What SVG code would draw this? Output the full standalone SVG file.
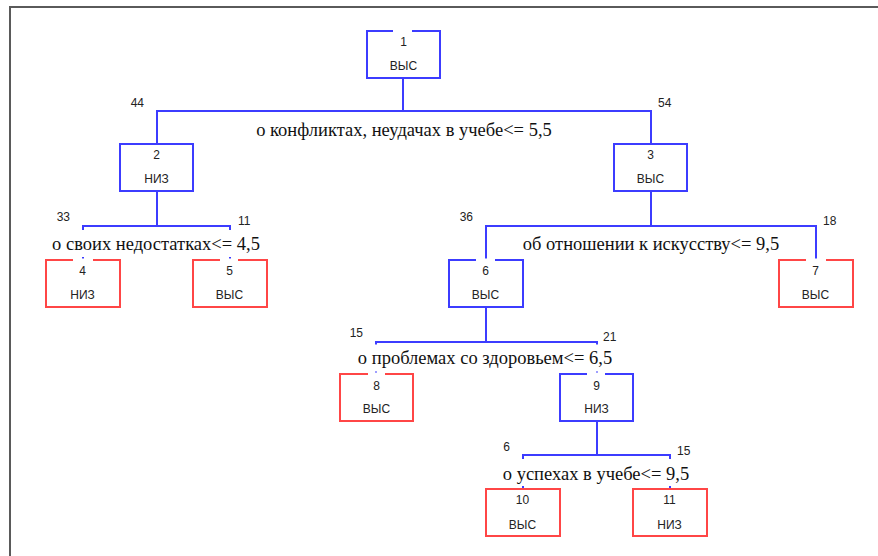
<svg xmlns="http://www.w3.org/2000/svg" width="878" height="556" viewBox="0 0 878 556">
<style>
.frame{stroke:#5a5a5a;stroke-width:2;fill:none}
.conn{stroke:#3c3cff;stroke-width:2;fill:none}
.nb{fill:#fff;stroke:#3c3cff;stroke-width:2}
.nr{fill:#fff;stroke:#ff4646;stroke-width:2}
.gap{fill:#fff;stroke:none}
.bg{fill:#fff;stroke:none}
.num{font-family:"Liberation Sans",Arial,sans-serif;font-size:12px;fill:#222;text-anchor:middle}
.cls{font-family:"Liberation Sans",Arial,sans-serif;font-size:12px;fill:#222;text-anchor:middle}
.cnt{font-family:"Liberation Sans",Arial,sans-serif;font-size:12px;fill:#222}
.split{font-family:"Liberation Serif","Times New Roman",serif;font-size:18.5px;fill:#111;text-anchor:middle}
</style>
<rect width="878" height="556" fill="#fff"/>
<path class="frame" d="M10 556 V7 H878"/>
<g id="connectors">
<path class="conn" d="M403 78 V111 M157 144 V111 H651 V144"/>
<path class="conn" d="M157 192 V226 M83 260 V226 H230 V260"/>
<path class="conn" d="M651 192 V226 M486 260 V226 H816 V260"/>
<path class="conn" d="M486 307 V342 M376 374 V342 H597 V374"/>
<path class="conn" d="M597 421 V455 M523 489 V455 H670 V489"/>
<g id="counts">
<text class="cnt" x="144" y="107" text-anchor="end">44</text>
<text class="cnt" x="658" y="107">54</text>
<text class="cnt" x="70" y="221" text-anchor="end">33</text>
<text class="cnt" x="238" y="225">11</text>
<text class="cnt" x="473" y="221" text-anchor="end">36</text>
<text class="cnt" x="823" y="225">18</text>
<text class="cnt" x="363" y="337" text-anchor="end">15</text>
<text class="cnt" x="603" y="341">21</text>
<text class="cnt" x="510" y="451" text-anchor="end">6</text>
<text class="cnt" x="677" y="455">15</text>
</g>
</g>
<g id="split-labels">
<text class="split" x="404" y="136">о конфликтах, неудачах в учебе&lt;= 5,5</text>
<rect class="bg" x="50" y="230" width="213" height="27"/>
<text class="split" x="156" y="250">о своих недостатках&lt;= 4,5</text>
<text class="split" x="651" y="250">об отношении к искусству&lt;= 9,5</text>
<rect class="bg" x="353" y="344.5" width="264" height="27"/>
<text class="split" x="485" y="364">о проблемах со здоровьем&lt;= 6,5</text>
<rect class="bg" x="500" y="459" width="192" height="27"/>
<text class="split" x="596" y="480">о успехах в учебе&lt;= 9,5</text>
</g>
<g id="node1"><rect class="nb" x="367" y="31" width="73" height="47"/><rect class="gap" x="393" y="29" width="19" height="4"/><text class="num" x="403.5" y="46">1</text><text class="cls" x="403.5" y="70">ВЫС</text></g>
<g id="node2"><rect class="nb" x="120" y="144" width="73" height="47"/><text class="num" x="156.5" y="159">2</text><text class="cls" x="156.5" y="183">НИЗ</text></g>
<g id="node3"><rect class="nb" x="614" y="144" width="73" height="47"/><text class="num" x="650.5" y="159">3</text><text class="cls" x="650.5" y="183">ВЫС</text></g>
<g id="node4"><rect class="nr" x="46" y="260" width="74" height="47"/><rect class="gap" x="73" y="258.5" width="20" height="4"/><text class="num" x="82.5" y="275">4</text><text class="cls" x="82.5" y="299">НИЗ</text></g>
<g id="node5"><rect class="nr" x="193" y="260" width="74" height="47"/><rect class="gap" x="220" y="258.5" width="18" height="4"/><text class="num" x="229.5" y="275">5</text><text class="cls" x="229.5" y="299">ВЫС</text></g>
<g id="node6"><rect class="nb" x="449" y="260" width="74" height="47"/><rect class="gap" x="476" y="258.5" width="19" height="4"/><text class="num" x="485.5" y="275">6</text><text class="cls" x="485.5" y="299">ВЫС</text></g>
<g id="node7"><rect class="nr" x="779" y="260" width="74" height="47"/><rect class="gap" x="806" y="258.5" width="20" height="4"/><text class="num" x="815.5" y="275">7</text><text class="cls" x="815.5" y="299">ВЫС</text></g>
<g id="node8"><rect class="nr" x="340" y="374" width="73" height="47"/><rect class="gap" x="368" y="372.5" width="17" height="4"/><text class="num" x="376.5" y="390">8</text><text class="cls" x="376.5" y="413">ВЫС</text></g>
<g id="node9"><rect class="nb" x="560" y="374" width="73" height="47"/><rect class="gap" x="587" y="372.5" width="18" height="4"/><text class="num" x="596.5" y="390">9</text><text class="cls" x="596.5" y="413">НИЗ</text></g>
<g id="node10"><rect class="nr" x="486" y="489" width="74" height="47"/><text class="num" x="522.5" y="504">10</text><text class="cls" x="522.5" y="529">ВЫС</text></g>
<g id="node11"><rect class="nr" x="633" y="489" width="74" height="47"/><text class="num" x="669.5" y="504">11</text><text class="cls" x="669.5" y="529">НИЗ</text></g>
</svg>
